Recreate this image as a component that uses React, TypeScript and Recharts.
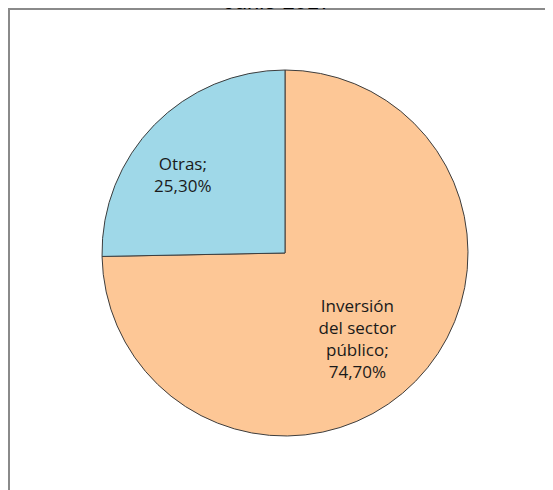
import { PieChart, Pie, Cell } from 'recharts'

const categories = ['Inversión del sector público', 'Otras']
const shares = [74.7, 25.3]
const labelLines = [
  ['Inversión', 'del sector', 'público;', '74,70%'],
  ['Otras;', '25,30%'],
]
const title = 'Junio 2017'

const colors = ['#FDC796', '#9FD8E8']

const data = categories.map((name, i) => ({ name, value: shares[i] }))

const RADIAN = Math.PI / 180

function renderLabel(props: any) {
  const { cx, cy, midAngle, outerRadius, index } = props
  const r = outerRadius * (index === 0 ? 0.6 : 0.66)
  let x = cx + r * Math.cos(-midAngle * RADIAN)
  let y = cy + r * Math.sin(-midAngle * RADIAN)
  // nudge to match the original placement
  if (index === 1) {
    x -= 16
    y += 6
  } else {
    x -= 6
    y += 8
  }
  const lines = labelLines[index]
  const lh = 22
  const top = y - ((lines.length - 1) * lh) / 2
  return (
    <text
      x={x}
      y={top}
      textAnchor="middle"
      dominantBaseline="central"
      fill="#1a1a1a"
      fontFamily="'Open Sans', sans-serif"
      fontSize={17}
    >
      {lines.map((l, k) => (
        <tspan key={k} x={x} y={top + k * lh}>
          {l}
        </tspan>
      ))}
    </text>
  )
}

export default function App() {
  return (
    <div
      style={{
        position: 'relative',
        width: 545,
        height: 482,
        borderTop: '2px solid #8a8a8a',
        borderLeft: '2px solid #8a8a8a',
        background: '#fff',
      }}
    >
      {/* title sits above the frame and is clipped by the page top, as in the original */}
      <div
        style={{
          position: 'absolute',
          top: -19,
          left: 0,
          width: 535,
          textAlign: 'center',
          fontFamily: "'Liberation Sans', Arial, sans-serif",
          fontSize: 22,
          color: '#000',
          lineHeight: '22px',
          zIndex: 2,
        }}
      >
        {title}
      </div>
      <PieChart width={543} height={480}>
        <Pie
          data={data}
          dataKey="value"
          nameKey="name"
          cx={270}
          cy={238}
          outerRadius={183}
          startAngle={90}
          endAngle={-270}
          stroke="#3d3d3d"
          strokeWidth={1}
          label={renderLabel}
          labelLine={false}
          isAnimationActive={false}
        >
          {data.map((d, i) => (
            <Cell key={d.name} fill={colors[i]} />
          ))}
        </Pie>
      </PieChart>
    </div>
  )
}
